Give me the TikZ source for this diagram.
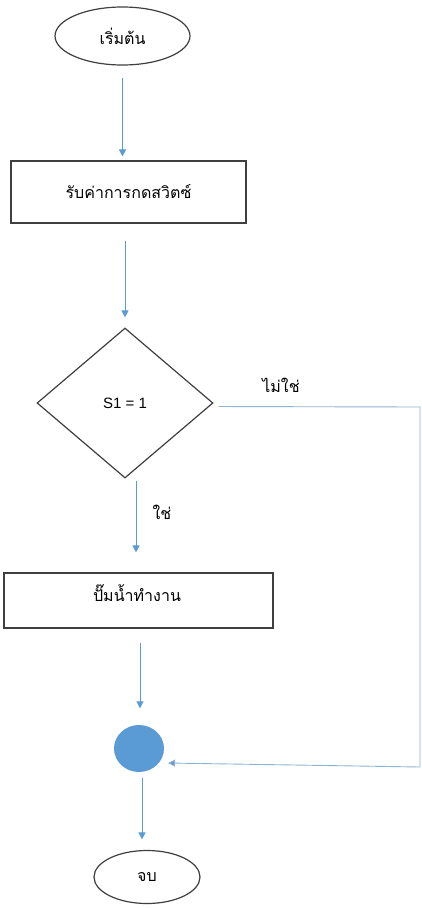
\documentclass[tikz,border=0pt]{standalone}
\usepackage{fontspec}
\setmainfont{Liberation Sans}
\newfontfamily\thaifont[Script=Thai]{Loma}
\usetikzlibrary{shapes.geometric,arrows.meta}
\definecolor{flowblue}{HTML}{5B9BD5}
\definecolor{linkblue}{HTML}{8FB3D3}
\definecolor{edgegray}{HTML}{3F3F3F}
\tikzset{
  shapebox/.style={draw=edgegray,line width=1.2pt,inner sep=0pt,font=\thaifont\fontsize{16}{18}\selectfont},
  terminal/.style={shapebox,ellipse},
  procbox/.style={shapebox,rectangle},
  decision/.style={shapebox,diamond,font=\fontsize{15}{17}\selectfont},
  joinpt/.style={ellipse,fill=flowblue,draw=none,minimum width=50pt,minimum height=47pt,inner sep=0pt},
  arr/.style={draw=flowblue,line width=0.9pt,-{Triangle[width=7pt,length=7pt]}},
  lbl/.style={font=\thaifont\fontsize{16}{18}\selectfont,inner sep=0pt}
}
\begin{document}
\begin{tikzpicture}[x=1pt,y=-1pt]
\useasboundingbox[fill=white] (0,0) rectangle (422,908);
\node[terminal,minimum width=135pt,minimum height=58pt] (start) at (122.5,36) {เริ่มต้น};
\node[procbox,minimum width=235pt,minimum height=62pt] (box1) at (128.5,192) {รับค่าการกดสวิตซ์};
\node[decision,minimum width=176pt,minimum height=150pt] (dia) at (125,403) {S1 = 1};
\node[procbox,minimum width=269pt,minimum height=55pt] (box2) at (138.5,600.5) {};
\node[lbl] (box2txt) at (137,593) {ปั๊มน้ำทำงาน};
\node[joinpt] (join) at (139,748.5) {};
\node[terminal,minimum width=106pt,minimum height=53pt] (stop) at (147,877) {จบ};
\node[lbl] (nolbl) at (281,385) {ไม่ใช่};
\node[lbl] (yeslbl) at (162,512) {ใช่};
\coordinate (c1) at (420,407);
\coordinate (c2) at (420,767);
\coordinate (c3) at (168,763);
\draw[arr,shorten <=12pt,shorten >=4pt] (start.south) -- (start.south |- box1.north);
\draw[arr,shorten <=17pt,shorten >=10pt] ([xshift=-3.5pt]box1.south) -- ([xshift=-3.5pt]box1.south |- dia.north);
\draw[arr,shorten <=2pt,shorten >=20pt] ([xshift=11pt]dia.south) -- ([xshift=11pt]dia.south |- box2.north);
\draw[arr,shorten <=14pt,shorten >=16.5pt] ([xshift=1.5pt]box2.south) -- ([xshift=1.5pt]box2.south |- join.north);
\draw[arr,shorten <=5.5pt,shorten >=10.5pt] ([xshift=3pt]join.south) -- ([xshift=3pt]join.south |- stop.north);
\draw[draw=linkblue,line width=0.9pt,shorten <=5pt] ([yshift=-3.5pt]dia.east) -- (c1) -- (c2);
\draw[arr,draw=linkblue,-{Triangle[width=7pt,length=7pt,fill=flowblue]}] (c2) -- (c3);
\end{tikzpicture}
\end{document}
